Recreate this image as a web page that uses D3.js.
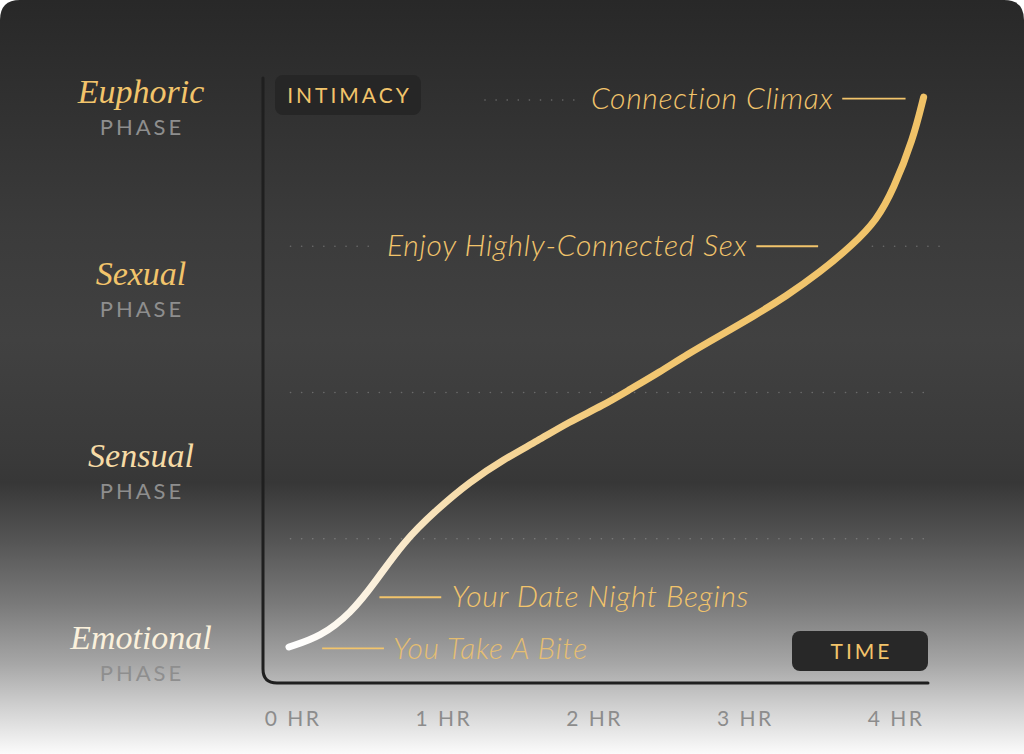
<!DOCTYPE html>
<html>
<head>
<meta charset="utf-8">
<script src="https://cdn.jsdelivr.net/npm/d3@7"></script>
<style>
  html, body { margin: 0; padding: 0; background: #ffffff; }
  svg { display: block; }
</style>
</head>
<body>
<div id="chart"></div>
<script>
// data
var hours    = [-0.02, 0.19, 0.39, 0.55, 0.74, 0.96, 1.18, 1.40, 1.63, 1.84, 2.06, 2.24, 2.44, 2.62, 2.84, 3.06, 3.28, 3.50, 3.72, 3.88, 3.99, 4.12, 4.19];
var intimacy = [0.26, 0.33, 0.49, 0.70, 0.98, 1.20, 1.39, 1.54, 1.67, 1.80, 1.91, 2.02, 2.14, 2.26, 2.39, 2.52, 2.66, 2.82, 3.01, 3.18, 3.39, 3.73, 4.02];

var phases = ["Euphoric", "Sexual", "Sensual", "Emotional"];
var tickHours = [0, 1, 2, 3, 4];
var tickLabels = ["0 HR", "1 HR", "2 HR", "3 HR", "4 HR"];
var gridLevels = [4, 3, 2, 1];

var noteTexts  = ["Connection Climax", "Enjoy Highly-Connected Sex", "Your Date Night Begins", "You Take A Bite"];
var noteLevels = [4.01, 3.0, 0.60, 0.25];

// layout
var width = 1024, height = 754;
var gold = "#f2c46b";
var phaseColor = { Euphoric: "#f2c46b", Sexual: "#f2c46b", Sensual: "#f6dba6", Emotional: "#fbf1dc" };

var x = d3.scaleLinear().domain([0, 4]).range([292, 895]);
var y = d3.scaleLinear().domain([0, 4]).range([685, 100]);
var phaseY = d3.scalePoint().domain(phases).range([92, 638]);

// where each gridline is visible (in hours)
var gridSpans = [[[1.28, 1.91]], [[-0.01, 0.55], [3.85, 4.30]], [[-0.01, 4.23]], [[-0.01, 4.23]]];
// annotation layout: [lineStart, lineEnd, textX, anchor]
var noteLayout = [
    [3.65, 4.07, 3.59, "end"],
    [3.08, 3.49, 3.02, "end"],
    [0.58, 0.99, 1.06, "start"],
    [0.20, 0.61, 0.67, "start"]
];

var svg = d3.select("#chart").append("svg")
    .attr("width", width)
    .attr("height", height);

var defs = svg.append("defs");

var bg = defs.append("linearGradient")
    .attr("id", "bg")
    .attr("x1", 0).attr("y1", 0).attr("x2", 0).attr("y2", 1);
[[0, "#282828"], [0.3, "#3b3b3b"], [0.45, "#414141"], [0.6, "#3a3a3a"], [0.64, "#373737"],
 [0.72, "#565656"], [0.8, "#797979"], [0.88, "#a6a6a6"], [0.94, "#d2d2d2"], [1, "#fbfbfb"]]
    .forEach(function (s) {
        bg.append("stop").attr("offset", s[0]).attr("stop-color", s[1]);
    });

var lineGrad = defs.append("linearGradient")
    .attr("id", "lineGrad")
    .attr("gradientUnits", "userSpaceOnUse")
    .attr("x1", x(0)).attr("y1", y(0.3))
    .attr("x2", x(4.2)).attr("y2", y(4));
[[0, "#ffffff"], [0.12, "#fbf0dc"], [0.3, "#f6d9a2"], [0.5, "#f2c772"], [1, "#f0c267"]]
    .forEach(function (s) {
        lineGrad.append("stop").attr("offset", s[0]).attr("stop-color", s[1]);
    });

// card with rounded top corners
var r = 20;
svg.append("path")
    .attr("d", "M0," + r + "Q0,0 " + r + ",0H" + (width - r) + "Q" + width + ",0 " + width + "," + r + "V" + height + "H0Z")
    .attr("fill", "url(#bg)");

// gridlines
gridLevels.forEach(function (lv, i) {
    gridSpans[i].forEach(function (sp) {
        svg.append("line")
            .attr("x1", x(sp[0])).attr("x2", x(sp[1]))
            .attr("y1", y(lv)).attr("y2", y(lv))
            .attr("stroke", lv == 1 ? "#7a7a7a" : "#6a6a6a")
            .attr("stroke-width", 1.6)
            .attr("stroke-linecap", "round")
            .attr("stroke-dasharray", "0.1 11");
    });
});

// axes (L shape with rounded corner)
var ax0 = 263, ay0 = 78, ay1 = 683, ax1 = 928, cr = 14;
svg.append("path")
    .attr("d", "M" + ax0 + "," + ay0 + "V" + (ay1 - cr) + "Q" + ax0 + "," + ay1 + " " + (ax0 + cr) + "," + ay1 + "H" + ax1)
    .attr("fill", "none")
    .attr("stroke", "#1f1f1f")
    .attr("stroke-width", 3)
    .attr("stroke-linecap", "round");

// axis title boxes
function tagBox(cx, cy, w, txt, fill) {
    var g = svg.append("g");
    g.append("rect")
        .attr("x", cx - w / 2).attr("y", cy - 20)
        .attr("width", w).attr("height", 40)
        .attr("rx", 8)
        .attr("fill", fill);
    g.append("text")
        .attr("x", cx + 1.5).attr("y", cy)
        .attr("dy", "0.36em")
        .attr("text-anchor", "middle")
        .attr("font-family", "Lato, 'Open Sans', sans-serif")
        .attr("font-size", 21)
        .attr("letter-spacing", 3)
        .attr("fill", gold)
        .text(txt);
}
tagBox(348, 95, 146, "INTIMACY", "#262626");
tagBox(860, 651, 136, "TIME", "#282828");

// phase labels
var ph = svg.selectAll(".phase").data(phases).enter().append("g").attr("class", "phase");
ph.append("text")
    .attr("x", 141)
    .attr("y", function (d) { return phaseY(d) + 11; })
    .attr("text-anchor", "middle")
    .attr("font-family", "'Liberation Serif', 'DejaVu Serif', serif")
    .attr("font-style", "italic")
    .attr("font-size", 34)
    .attr("fill", function (d) { return phaseColor[d]; })
    .text(function (d) { return d; });
ph.append("text")
    .attr("x", 142)
    .attr("y", function (d) { return phaseY(d) + 43; })
    .attr("text-anchor", "middle")
    .attr("font-family", "Lato, 'Open Sans', sans-serif")
    .attr("font-size", 22)
    .attr("letter-spacing", 3)
    .attr("fill", "#8e8e8e")
    .text("PHASE");

// x tick labels
svg.selectAll(".tick").data(tickHours).enter().append("text")
    .attr("class", "tick")
    .attr("x", function (d) { return x(d) + 1; })
    .attr("y", 726)
    .attr("text-anchor", "middle")
    .attr("font-family", "Lato, 'Open Sans', sans-serif")
    .attr("font-size", 21)
    .attr("letter-spacing", 2.5)
    .attr("fill", "#8c8c8c")
    .text(function (d, i) { return tickLabels[i]; });

// annotations
noteTexts.forEach(function (t, i) {
    var lay = noteLayout[i];
    var yy = y(noteLevels[i]);
    svg.append("line")
        .attr("x1", x(lay[0])).attr("x2", x(lay[1]))
        .attr("y1", yy).attr("y2", yy)
        .attr("stroke", gold)
        .attr("stroke-width", 1.8);
    svg.append("text")
        .attr("x", x(lay[2]))
        .attr("y", yy)
        .attr("dy", "0.34em")
        .attr("text-anchor", lay[3])
        .attr("font-family", "Lato, 'Open Sans', sans-serif")
        .attr("font-style", "italic")
        .attr("font-weight", 300)
        .attr("font-size", 30)
        .attr("letter-spacing", 0.7)
        .attr("fill", gold)
        .attr("opacity", i == 3 ? 0.85 : 1)
        .text(t);
});

// the curve
var pts = hours.map(function (h, i) { return [h, intimacy[i]]; });
var line = d3.line()
    .x(function (d) { return x(d[0]); })
    .y(function (d) { return y(d[1]); })
    .curve(d3.curveBasis);

svg.append("path")
    .datum(pts)
    .attr("d", line)
    .attr("fill", "none")
    .attr("stroke", "url(#lineGrad)")
    .attr("stroke-width", 7)
    .attr("stroke-linecap", "round");
</script>
</body>
</html>
